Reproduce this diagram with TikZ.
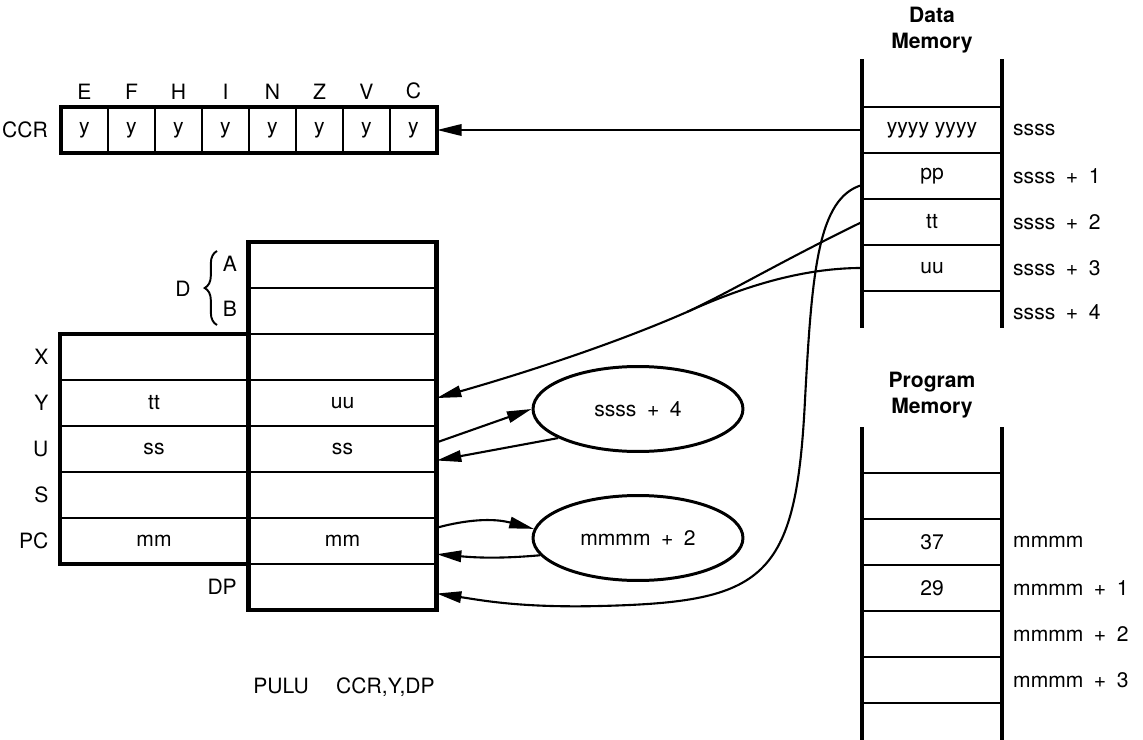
\documentclass[tikz,border=0pt]{standalone}
\usepackage{fontspec}
\setmainfont{TeX Gyre Heros}
\usepackage{tikz}
\usetikzlibrary{arrows.meta, positioning, decorations.pathreplacing, shapes.geometric, calc}

\begin{document}
\begin{tikzpicture}[x=0.02cm, y=-0.02cm, >={Triangle[length=14pt,width=6.5pt]},
  font=\fontsize{12}{15}\selectfont,
  cell/.style={draw, line width=1.3pt, minimum width=3.77cm, minimum height=0.92cm, inner sep=0pt, outer sep=0pt},
  bit/.style={draw, line width=1.1pt, minimum width=0.94cm, minimum height=0.92cm, inner sep=0pt, outer sep=0pt},
  memrow/.style={draw, line width=1.3pt, minimum width=2.8cm, minimum height=0.92cm, inner sep=0pt, outer sep=0pt},
  addr/.style={anchor=west},
  incr/.style={ellipse, draw, line width=1.7pt, minimum width=4.2cm, minimum height=1.7cm},
  heavy/.style={line width=2.6pt},
  link/.style={->, line width=1.2pt}]
  \useasboundingbox (0,0) rectangle (1143,740);

  % CCR
  \foreach \i in {0,...,7} \node[bit] (c\i) at (84.5+47*\i,130) {y};
  \draw[heavy] (c0.north west) rectangle (c7.south east);
  \foreach \f [count=\i from 0] in {E,F,H,I,N,Z,V,C} \node[above=1pt of c\i] (f\i) {\f};
  \node[left=4pt of c0] (ccr) {CCR};

  % Registers
  \node[cell] (a) at (342.5,265) {};
  \node[cell, below=0pt of a] (b) {};
  \node[cell, below=0pt of b] (xl) {};
  \node[cell, below=0pt of xl] (yl) {uu};
  \node[cell, below=0pt of yl] (ul) {ss};
  \node[cell, below=0pt of ul] (sl) {};
  \node[cell, below=0pt of sl] (pcl) {mm};
  \node[cell, below=0pt of pcl] (dp) {};
  \node[cell, left=0pt of xl] (xh) {};
  \node[cell, left=0pt of yl] (yh) {tt};
  \node[cell, left=0pt of ul] (uh) {ss};
  \node[cell, left=0pt of sl] (sh) {};
  \node[cell, left=0pt of pcl] (pch) {mm};
  \draw[heavy] (a.north west) -- (a.north east) -- (dp.south east) -- (dp.south west)
    -- (dp.north west) -- (pch.south west) -- (xh.north west) -- (xh.north east) -- cycle;
  \draw[heavy] (xh.north east) -- (pch.south east);
  \node[left=3pt of xh] (lx) {X};
  \node[left=3pt of yh] (ly) {Y};
  \node[left=3pt of uh] (lu) {U};
  \node[left=3pt of sh] (ls) {S};
  \node[left=3pt of pch] (lpc) {PC};
  \node[left=3pt of dp] (ldp) {DP};
  \node (la) at (230,264) {A};
  \node (lb) at (230,309) {B};
  \coordinate (brlo) at (217,325);
  \coordinate (brhi) at (217,251);
  \draw[line width=1.1pt, decorate, decoration={brace, amplitude=7pt}] (brlo) -- (brhi);
  \node (ld) at (183,289) {D};

  % Increments
  \node[incr] (uinc) at (638,409) {ssss\enspace+\enspace4};
  \node[incr] (pcinc) at (638,538) {mmmm\enspace+\enspace2};

  % Data memory
  \node[font=\fontsize{12}{15}\selectfont\bfseries, align=center] (dmem) at (932,30) {Data\\Memory};
  \node[memrow] (m0) at (932,130) {yyyy yyyy};
  \node[memrow, below=0pt of m0] (m1) {pp};
  \node[memrow, below=0pt of m1] (m2) {tt};
  \node[memrow, below=0pt of m2] (m3) {uu};
  \draw[heavy] ($(m0.north west)+(0,-48)$) -- ($(m3.south west)+(0,37)$);
  \draw[heavy] ($(m0.north east)+(0,-48)$) -- ($(m3.south east)+(0,37)$);
  \node[addr] (s0) at ($(m0.east)+(5,0)$) {ssss};
  \node[addr] (s1) at ($(m1.east)+(5,0)$) {ssss\enspace+\enspace1};
  \node[addr] (s2) at ($(m2.east)+(5,0)$) {ssss\enspace+\enspace2};
  \node[addr] (s3) at ($(m3.east)+(5,0)$) {ssss\enspace+\enspace3};
  \node[addr] (s4) at ($(m3.east)+(5,44)$) {ssss\enspace+\enspace4};

  % Program memory
  \node[font=\fontsize{12}{15}\selectfont\bfseries, align=center] (pmem) at (932,395) {Program\\Memory};
  \node[memrow] (p0) at (932,496) {};
  \node[memrow, below=0pt of p0] (p1) {37};
  \node[memrow, below=0pt of p1] (p2) {29};
  \node[memrow, below=0pt of p2] (p3) {};
  \node[memrow, below=0pt of p3] (p4) {};
  \draw[heavy] ($(p0.north west)+(0,-46)$) -- ($(p4.south west)+(0,37)$);
  \draw[heavy] ($(p0.north east)+(0,-46)$) -- ($(p4.south east)+(0,37)$);
  \node[addr] (n1) at ($(p1.east)+(5,0)$) {mmmm};
  \node[addr] (n2) at ($(p2.east)+(5,0)$) {mmmm\enspace+\enspace1};
  \node[addr] (n3) at ($(p3.east)+(5,0)$) {mmmm\enspace+\enspace2};
  \node[addr] (n4) at ($(p4.east)+(5,0)$) {mmmm\enspace+\enspace3};

  \node (instr) at (344,687) {PULU\hspace{1.3em}CCR,Y,DP};

  % Pulls
  \coordinate (mrg) at (687,312);
  \draw[link] (m0.west) -- (c7.east);
  \draw[link] ($(m1.west)+(0,9)$) .. controls (818,198) and (812,270) .. (805,400)
    .. controls (796,580) and (765,602) .. (600,606)
    .. controls (520,608) and (480,600) .. (dp.-4);
  \draw[line width=1.2pt] (m2.west) .. controls (780,262) and (730,292) .. (mrg);
  \draw[line width=1.2pt] (m3.west) .. controls (800,268) and (740,288) .. (mrg);
  \draw[link] (mrg) .. controls (600,350) and (500,380) .. (yl.3);
  \draw[link] (ul.4) -- (uinc.west);
  \draw[link] (uinc.200) -- (ul.-7);
  \draw[link] (pcl.8) to[out=15, in=165] (pcinc.175);
  \draw[link] (pcinc.190) to[out=185, in=-5] (pcl.-8);
\end{tikzpicture}
\end{document}
